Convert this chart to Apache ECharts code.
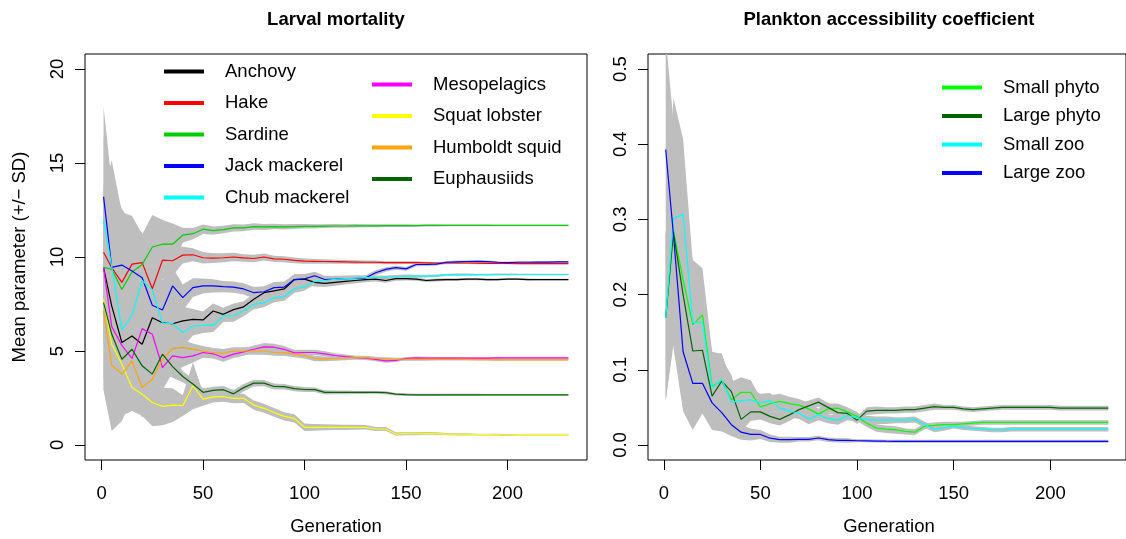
<!DOCTYPE html>
<html><head><meta charset="utf-8">
<script src="https://cdn.jsdelivr.net/npm/echarts@6/dist/echarts.min.js"></script>
<style>html,body{margin:0;padding:0;background:#fff}#c{width:1126px;height:539px}</style>
</head><body><div id="c"></div>
<script>
// ---------- data ----------
const generations = [1,5,10,15,20,25,30,35,40,45,50,55,60,65,70,75,80,85,90,95,100,105,110,115,120,125,130,135,140,145,150,155,160,165,170,175,180,185,190,195,200,205,210,215,220,225,230];
const xTicks = [0,50,100,150,200];
const yTicksLeft = [0,5,10,15,20];
const yTicksRight = [0,0.1,0.2,0.3,0.4,0.5];

const speciesNames = ['Anchovy','Hake','Sardine','Jack mackerel','Chub mackerel','Mesopelagics','Squat lobster','Humboldt squid','Euphausiids'];
const speciesColors = ['#000000','#FF0000','#00CD00','#0000FF','#00FFFF','#FF00FF','#FFFF00','#FFA500','#006400'];

const anchovy = [9.43,7.4,5.45,5.8,5.36,6.77,6.5,6.45,6.6,6.68,6.65,7.13,6.95,7.2,7.35,7.75,8.1,8.2,8.3,8.8,8.82,8.65,8.6,8.65,8.7,8.75,8.8,8.82,8.75,8.85,8.85,8.82,8.75,8.78,8.8,8.8,8.82,8.82,8.8,8.8,8.82,8.82,8.8,8.8,8.8,8.8,8.8];
const hake = [10.25,9.43,8.65,9.62,9.7,8.31,9.83,9.8,10.1,10.12,9.96,9.94,9.96,10.0,9.95,9.92,10.0,9.9,9.88,9.82,9.78,9.77,9.76,9.75,9.74,9.73,9.72,9.72,9.7,9.7,9.7,9.7,9.69,9.68,9.68,9.68,9.68,9.67,9.66,9.66,9.66,9.65,9.65,9.65,9.65,9.65,9.65];
const sardine = [9.45,9.35,8.27,9.2,9.6,10.53,10.68,10.68,11.16,11.24,11.48,11.4,11.46,11.55,11.55,11.62,11.6,11.62,11.6,11.62,11.63,11.63,11.64,11.65,11.65,11.66,11.66,11.66,11.67,11.67,11.67,11.67,11.68,11.68,11.68,11.68,11.68,11.68,11.68,11.68,11.68,11.68,11.68,11.68,11.68,11.68,11.68];
const jackMackerel = [13.2,9.45,9.57,9.25,8.9,7.43,7.18,8.46,7.84,8.37,8.46,8.46,8.42,8.4,8.3,8.1,8.15,8.37,8.4,8.8,8.84,9.0,8.8,8.82,8.85,8.86,8.88,9.16,9.34,9.43,9.37,9.6,9.6,9.62,9.72,9.74,9.76,9.77,9.75,9.72,9.7,9.72,9.72,9.73,9.73,9.74,9.74];
const chubMackerel = [11.98,9.5,6.12,6.9,8.75,8.25,6.47,6.47,5.98,6.33,6.36,6.36,6.86,6.86,7.13,7.48,7.57,7.83,7.9,8.31,8.42,8.7,8.75,8.81,8.85,8.88,8.9,8.9,8.92,8.95,8.99,8.98,8.98,9.0,9.05,9.06,9.06,9.06,9.06,9.07,9.07,9.07,9.07,9.07,9.07,9.07,9.07];
const mesopelagics = [9.43,6.3,5.3,4.6,6.19,5.89,4.12,4.74,4.65,4.74,4.92,4.85,4.65,4.83,4.95,5.09,5.22,5.2,5.09,4.9,4.92,4.92,4.85,4.76,4.7,4.65,4.62,4.55,4.47,4.5,4.6,4.63,4.62,4.62,4.62,4.62,4.62,4.62,4.62,4.63,4.63,4.63,4.63,4.63,4.63,4.63,4.63];
const squatLobster = [7.75,5.36,4.3,3.06,2.7,2.26,2.05,2.12,2.09,3.15,2.44,2.56,2.58,2.48,2.48,2.12,1.95,1.73,1.52,1.41,0.94,0.94,0.94,0.94,0.94,0.94,0.94,0.85,0.85,0.58,0.6,0.6,0.62,0.6,0.58,0.56,0.56,0.55,0.55,0.54,0.53,0.54,0.55,0.55,0.55,0.55,0.55];
const humboldtSquid = [7.13,4.24,3.77,4.47,3.06,3.5,4.56,5.13,5.19,5.1,5.0,4.92,4.88,5.0,5.0,5.0,5.0,4.92,4.9,4.83,4.75,4.6,4.58,4.6,4.62,4.65,4.65,4.6,4.58,4.56,4.56,4.55,4.55,4.55,4.55,4.55,4.55,4.54,4.54,4.53,4.53,4.53,4.53,4.53,4.53,4.53,4.53];
const euphausiids = [7.57,5.9,4.56,5.09,4.21,3.77,4.83,4.17,3.64,3.24,2.8,2.9,2.94,2.72,3.05,3.29,3.29,3.11,3.1,3.0,2.95,2.94,2.8,2.8,2.8,2.8,2.8,2.8,2.78,2.7,2.68,2.67,2.67,2.67,2.67,2.67,2.67,2.67,2.67,2.67,2.67,2.67,2.67,2.67,2.67,2.67,2.67];

const sdAnchovy = [3.5,3.0,2.4,2.0,1.7,1.5,1.3,1.0,0.75,0.55,0.45,0.4,0.35,0.32,0.3,0.3,0.3,0.3,0.3,0.28,0.25,0.22,0.2,0.18,0.16,0.15,0.14,0.13,0.12,0.11,0.1,0.09,0.08,0.08,0.07,0.07,0.06,0.06,0.06,0.05,0.05,0.05,0.05,0.04,0.04,0.04,0.04];
const sdHake = [3.6,3.8,3.6,2.2,1.6,1.8,1.0,0.8,0.45,0.35,0.3,0.26,0.24,0.22,0.2,0.2,0.18,0.17,0.16,0.15,0.14,0.13,0.12,0.11,0.1,0.1,0.09,0.09,0.08,0.08,0.07,0.07,0.06,0.06,0.06,0.05,0.05,0.05,0.05,0.04,0.04,0.04,0.04,0.04,0.04,0.04,0.04];
const sdSardine = [4.0,5.8,4.1,3.0,1.6,1.7,1.3,1.1,0.4,0.3,0.25,0.22,0.2,0.19,0.18,0.17,0.16,0.15,0.14,0.13,0.12,0.11,0.1,0.1,0.09,0.09,0.08,0.08,0.07,0.07,0.07,0.06,0.06,0.06,0.05,0.05,0.05,0.05,0.05,0.04,0.04,0.04,0.04,0.04,0.04,0.04,0.04];
const sdJackMackerel = [4.8,4.5,3.0,2.5,2.0,1.8,1.6,1.0,0.7,0.5,0.4,0.35,0.3,0.3,0.3,0.3,0.3,0.3,0.3,0.28,0.25,0.22,0.2,0.18,0.16,0.15,0.14,0.13,0.12,0.11,0.1,0.09,0.08,0.08,0.07,0.07,0.06,0.06,0.06,0.05,0.05,0.05,0.05,0.05,0.05,0.05,0.05];
const sdChubMackerel = [4.5,4.2,2.8,2.2,2.0,1.8,1.5,1.2,0.8,0.5,0.4,0.35,0.32,0.3,0.28,0.26,0.25,0.24,0.23,0.22,0.2,0.18,0.16,0.15,0.14,0.13,0.12,0.11,0.1,0.09,0.08,0.08,0.07,0.07,0.06,0.06,0.06,0.05,0.05,0.05,0.05,0.04,0.04,0.04,0.04,0.04,0.04];
const sdMesopelagics = [4.0,3.5,2.5,1.8,1.6,1.4,1.2,0.9,0.5,0.35,0.28,0.25,0.22,0.2,0.2,0.2,0.2,0.18,0.17,0.16,0.15,0.14,0.13,0.12,0.11,0.1,0.1,0.09,0.09,0.08,0.08,0.07,0.07,0.06,0.06,0.06,0.05,0.05,0.05,0.05,0.04,0.04,0.04,0.04,0.04,0.04,0.04];
const sdSquatLobster = [4.8,4.5,2.75,1.25,1.15,1.26,1.0,0.9,0.55,1.25,0.35,0.3,0.28,0.26,0.25,0.25,0.24,0.23,0.22,0.22,0.2,0.18,0.16,0.15,0.14,0.13,0.12,0.11,0.1,0.09,0.08,0.08,0.07,0.07,0.06,0.06,0.06,0.05,0.05,0.05,0.05,0.04,0.04,0.04,0.04,0.04,0.04];
const sdHumboldtSquid = [4.2,3.5,2.5,2.0,1.6,1.5,1.2,0.8,0.4,0.3,0.26,0.24,0.22,0.2,0.2,0.2,0.2,0.18,0.17,0.16,0.15,0.14,0.13,0.12,0.11,0.1,0.1,0.09,0.09,0.08,0.08,0.07,0.07,0.06,0.06,0.06,0.05,0.05,0.05,0.05,0.04,0.04,0.04,0.04,0.04,0.04,0.04];
const sdEuphausiids = [4.0,3.5,2.5,2.0,1.6,1.3,1.0,0.6,0.3,0.25,0.22,0.2,0.2,0.2,0.2,0.18,0.17,0.16,0.15,0.14,0.13,0.12,0.11,0.1,0.1,0.09,0.09,0.08,0.08,0.07,0.07,0.06,0.06,0.06,0.05,0.05,0.05,0.05,0.04,0.04,0.04,0.04,0.04,0.04,0.04,0.04,0.04];

const planktonNames = ['Small phyto','Large phyto','Small zoo','Large zoo'];
const planktonColors = ['#00FF00','#006400','#00FFFF','#0000FF'];
const smallPhyto = [0.169,0.285,0.22,0.16,0.173,0.078,0.085,0.06,0.07,0.07,0.0505,0.055,0.058,0.055,0.053,0.048,0.041,0.048,0.049,0.044,0.038,0.029,0.0226,0.021,0.02,0.018,0.0172,0.025,0.026,0.027,0.027,0.028,0.029,0.03,0.03,0.03,0.03,0.03,0.03,0.03,0.03,0.03,0.03,0.03,0.03,0.03,0.03];
const largePhyto = [0.169,0.283,0.2,0.125,0.126,0.065,0.085,0.071,0.034,0.044,0.044,0.038,0.034,0.04,0.047,0.052,0.057,0.05,0.043,0.042,0.033,0.045,0.046,0.046,0.046,0.047,0.047,0.049,0.051,0.05,0.05,0.048,0.047,0.048,0.049,0.05,0.05,0.05,0.05,0.05,0.05,0.049,0.049,0.049,0.049,0.049,0.049];
const smallZoo = [0.169,0.301,0.307,0.163,0.163,0.076,0.087,0.057,0.059,0.06,0.056,0.059,0.049,0.045,0.0425,0.0345,0.04,0.035,0.033,0.039,0.036,0.034,0.033,0.033,0.033,0.033,0.034,0.027,0.021,0.023,0.025,0.023,0.022,0.021,0.02,0.02,0.021,0.021,0.021,0.021,0.021,0.021,0.021,0.021,0.021,0.021,0.021];
const largeZoo = [0.393,0.28,0.124,0.082,0.082,0.056,0.043,0.027,0.017,0.014,0.014,0.009,0.007,0.007,0.0075,0.0075,0.0093,0.007,0.0062,0.006,0.0056,0.0055,0.0052,0.005,0.0049,0.0049,0.0049,0.0049,0.0049,0.0049,0.0048,0.0048,0.0048,0.0048,0.0048,0.0048,0.0048,0.0048,0.0048,0.0048,0.0048,0.0048,0.0048,0.0048,0.0048,0.0048,0.0048];

const sdSmallPhyto = [0.11,0.14,0.1,0.086,0.062,0.046,0.036,0.024,0.02,0.016,0.013,0.011,0.01,0.009,0.008,0.008,0.007,0.007,0.006,0.006,0.006,0.005,0.005,0.005,0.005,0.004,0.004,0.004,0.004,0.004,0.004,0.003,0.003,0.003,0.003,0.003,0.003,0.003,0.003,0.003,0.003,0.003,0.003,0.003,0.003,0.003,0.003];
const sdLargePhyto = [0.11,0.15,0.1,0.07,0.05,0.04,0.03,0.022,0.016,0.012,0.01,0.009,0.008,0.008,0.007,0.007,0.006,0.006,0.006,0.005,0.005,0.005,0.005,0.004,0.004,0.004,0.004,0.004,0.004,0.003,0.003,0.003,0.003,0.003,0.003,0.003,0.003,0.003,0.003,0.003,0.003,0.003,0.003,0.003,0.003,0.003,0.003];
const sdSmallZoo = [0.11,0.16,0.1,0.08,0.06,0.045,0.035,0.025,0.018,0.014,0.012,0.01,0.009,0.008,0.008,0.007,0.007,0.006,0.006,0.006,0.005,0.005,0.005,0.005,0.004,0.004,0.004,0.004,0.004,0.004,0.003,0.003,0.003,0.003,0.003,0.003,0.003,0.003,0.003,0.003,0.003,0.003,0.003,0.003,0.003,0.003,0.003];
const sdLargeZoo = [0.15,0.15,0.079,0.062,0.04,0.036,0.025,0.015,0.01,0.008,0.006,0.005,0.004,0.004,0.003,0.003,0.003,0.003,0.003,0.003,0.002,0.002,0.002,0.002,0.002,0.002,0.002,0.002,0.002,0.002,0.002,0.002,0.002,0.002,0.002,0.002,0.002,0.002,0.002,0.002,0.002,0.002,0.002,0.002,0.002,0.002,0.002];

// ---------- chart ----------
const FONT = '"Liberation Sans", Arial, Helvetica, sans-serif';
const FS = 18.5;
const speciesMeans = [anchovy,hake,sardine,jackMackerel,chubMackerel,mesopelagics,squatLobster,humboldtSquid,euphausiids];
const speciesSds = [sdAnchovy,sdHake,sdSardine,sdJackMackerel,sdChubMackerel,sdMesopelagics,sdSquatLobster,sdHumboldtSquid,sdEuphausiids];
const planktonMeans = [smallPhyto,largePhyto,smallZoo,largeZoo];
const planktonSds = [sdSmallPhyto,sdLargePhyto,sdSmallZoo,sdLargeZoo];

function bandSeries(name, mean, sd, idx) {
  const data = mean.map((m, i) => [generations[i], m - sd[i], m + sd[i]]);
  return {
    type:'custom', name:'band_' + name, xAxisIndex:idx, yAxisIndex:idx, silent:true, z:1, animation:false,
    data:data, encode:{x:0, y:[1,2]},
    renderItem:function (params, api) {
      if (params.dataIndex !== 0) return null;
      const upper = data.map(d => api.coord([d[0], d[2]]));
      const lower = data.map(d => api.coord([d[0], d[1]])).reverse();
      const cs = params.coordSys;
      return {type:'polygon', shape:{points:upper.concat(lower)},
        style:{fill:'#BEBEBE', stroke:null},
        clipPath:{type:'rect', shape:{x:cs.x, y:cs.y, width:cs.width, height:cs.height}}};
    }
  };
}
function meanLine(name, mean, color, idx) {
  return {type:'line', name:name, xAxisIndex:idx, yAxisIndex:idx, data:mean.map((m, i) => [generations[i], m]),
    symbol:'none', showSymbol:false, z:3, animation:false, color:color,
    itemStyle:{color:color}, lineStyle:{color:color, width:1.2}};
}

const series = [];
speciesNames.forEach((n, i) => series.push(bandSeries(n, speciesMeans[i], speciesSds[i], 0)));
planktonNames.forEach((n, i) => series.push(bandSeries(n, planktonMeans[i], planktonSds[i], 1)));
speciesNames.forEach((n, i) => series.push(meanLine(n, speciesMeans[i], speciesColors[i], 0)));
planktonNames.forEach((n, i) => series.push(meanLine(n, planktonMeans[i], planktonColors[i], 1)));

function xAxis(idx) {
  return {type:'value', gridIndex:idx, min:-8.16, max:239.16, position:'bottom',
    axisLine:{show:false, onZero:false}, splitLine:{show:false},
    axisTick:{show:true, inside:false, length:10, customValues:xTicks, lineStyle:{color:'#000', width:1}},
    axisLabel:{show:true, margin:24, customValues:xTicks, color:'#000', fontSize:FS, fontFamily:FONT}};
}
function yAxis(idx, min, max, ticks, fmt) {
  return {type:'value', gridIndex:idx, min:min, max:max, position:'left',
    axisLine:{show:false, onZero:false}, splitLine:{show:false},
    axisTick:{show:true, inside:false, length:10, customValues:ticks, lineStyle:{color:'#000', width:1}},
    axisLabel:{show:true, margin:18, rotate:90, customValues:ticks, color:'#000', fontSize:FS, fontFamily:FONT, formatter:fmt}};
}
const legendBase = {orient:'vertical', icon:'rect', itemWidth:40, itemHeight:4, selectedMode:false, padding:0,
  textStyle:{fontSize:FS, fontFamily:FONT, color:'#000', padding:[0,0,0,16]}};

const option = {
  backgroundColor:'#ffffff',
  animation:false,
  grid:[
    {left:85, top:54, width:502, height:406, show:true, borderColor:'#000', borderWidth:1, backgroundColor:'transparent'},
    {left:648, top:54, width:483, height:406, show:true, borderColor:'#000', borderWidth:1, backgroundColor:'transparent'}
  ],
  xAxis:[xAxis(0), xAxis(1)],
  yAxis:[
    yAxis(0, -0.8, 20.8, yTicksLeft, v => String(v)),
    yAxis(1, -0.02, 0.52, yTicksRight, v => v.toFixed(1))
  ],
  legend:[
    Object.assign({}, legendBase, {data:speciesNames.slice(0,5), left:164, top:62, itemGap:12.5}),
    Object.assign({}, legendBase, {data:speciesNames.slice(5), left:372, top:75, itemGap:12.5}),
    Object.assign({}, legendBase, {data:planktonNames, left:942, top:78, itemGap:9.5})
  ],
  graphic:[
    {type:'text', x:336, y:20, style:{text:'Larval mortality', font:'bold 18.5px ' + FONT, fill:'#000', textAlign:'center', textVerticalAlign:'middle'}},
    {type:'text', x:889, y:20, style:{text:'Plankton accessibility coefficient', font:'bold 18.5px ' + FONT, fill:'#000', textAlign:'center', textVerticalAlign:'middle'}},
    {type:'text', x:336, y:527, style:{text:'Generation', font:'18.5px ' + FONT, fill:'#000', textAlign:'center', textVerticalAlign:'middle'}},
    {type:'text', x:889, y:527, style:{text:'Generation', font:'18.5px ' + FONT, fill:'#000', textAlign:'center', textVerticalAlign:'middle'}},
    {type:'text', x:20, y:257, rotation:Math.PI/2, style:{text:'Mean parameter (+/\u2212 SD)', font:'18.5px ' + FONT, fill:'#000', textAlign:'center', textVerticalAlign:'middle'}}
  ],
  series:series
};
const chart = echarts.init(document.getElementById('c'));
chart.setOption(option);
</script>
</body></html>
